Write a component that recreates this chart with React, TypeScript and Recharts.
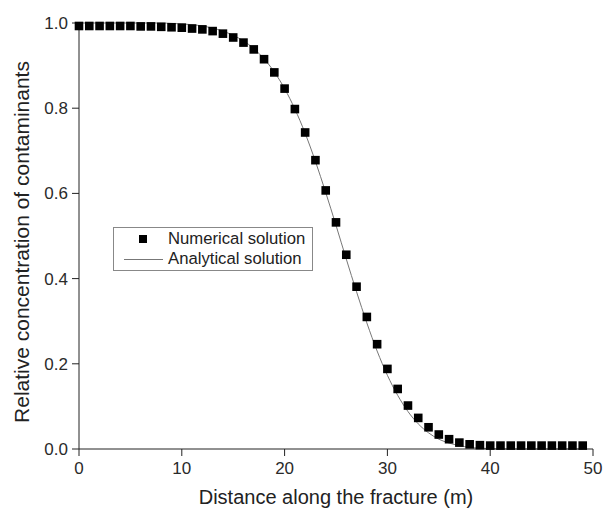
import { ComposedChart, Line, Scatter, XAxis, YAxis } from 'recharts';

const distance = [
  0, 1, 2, 3, 4, 5, 6, 7, 8, 9, 10, 11, 12, 13, 14, 15, 16, 17, 18, 19, 20, 21, 22, 23, 24,
  25, 26, 27, 28, 29, 30, 31, 32, 33, 34, 35, 36, 37, 38, 39, 40, 41, 42, 43, 44, 45, 46, 47, 48, 49,
];

const numerical = [
  0.993, 0.993, 0.993, 0.993, 0.993, 0.993, 0.992, 0.992, 0.991, 0.99, 0.989, 0.987, 0.985,
  0.981, 0.975, 0.966, 0.954, 0.938, 0.915, 0.884, 0.846, 0.798, 0.743, 0.678, 0.607, 0.532,
  0.456, 0.381, 0.31, 0.246, 0.188, 0.141, 0.102, 0.073, 0.051, 0.034, 0.023, 0.015, 0.011,
  0.009, 0.008, 0.008, 0.008, 0.008, 0.008, 0.008, 0.008, 0.008, 0.008, 0.008,
];

const analytical = [
  1.0, 1.0, 1.0, 1.0, 1.0, 1.0, 1.0, 1.0, 1.0, 0.999, 0.998, 0.996, 0.993, 0.988, 0.981,
  0.971, 0.958, 0.94, 0.916, 0.885, 0.846, 0.798, 0.741, 0.675, 0.602, 0.525, 0.446, 0.369,
  0.296, 0.23, 0.173, 0.126, 0.088, 0.059, 0.038, 0.023, 0.014, 0.008, 0.004, 0.002, 0.001,
  0, 0, 0, 0, 0, 0, 0, 0, 0,
];

const xTicks = [0, 10, 20, 30, 40, 50];
const yTicks = [0, 0.2, 0.4, 0.6, 0.8, 1.0];

const chartData = distance.map((x, i) => ({ x, num: numerical[i], ana: analytical[i] }));

const font = 'Arial, "Liberation Sans", sans-serif';

const SquareDot = (props: any) => {
  const { cx, cy } = props;
  if (cx == null || cy == null) return null;
  return <rect x={cx - 4.3} y={cy - 4.3} width={8.6} height={8.6} fill="#000" />;
};

export default function App() {
  return (
    <div style={{ position: 'absolute', left: 0, top: 0, width: 603, height: 511, background: '#fff', fontFamily: font }}>
      <ComposedChart
        width={603}
        height={511}
        data={chartData}
        margin={{ top: 23, right: 10, left: 0, bottom: 0 }}
      >
        <XAxis
          dataKey="x"
          type="number"
          domain={[0, 50]}
          ticks={xTicks}
          height={62}
          tickSize={7}
          tickMargin={6}
          stroke="#222"
          tick={{ fontSize: 17, fill: '#2a2a2a', fontFamily: font }}
        />
        <XAxis xAxisId="top" dataKey="x" type="number" domain={[0, 50]} orientation="top" tick={false} height={0} stroke="#555" />
        <YAxis
          type="number"
          domain={[0, 1]}
          ticks={yTicks}
          width={79}
          tickSize={7}
          tickMargin={4}
          stroke="#222"
          tickFormatter={(v) => v.toFixed(1)}
          tick={{ fontSize: 17, fill: '#2a2a2a', fontFamily: font }}
        />
        <YAxis yAxisId="right" orientation="right" domain={[0, 1]} tick={false} width={0} stroke="#555" />
        <Line
          dataKey="ana"
          type="monotone"
          stroke="#777"
          strokeWidth={1}
          dot={false}
          isAnimationActive={false}
        />
        <Scatter dataKey="num" shape={SquareDot} isAnimationActive={false} />
      </ComposedChart>

      <div
        style={{
          position: 'absolute',
          left: 336,
          top: 497,
          transform: 'translate(-50%, -50%)',
          whiteSpace: 'nowrap',
          fontSize: 20,
          color: '#222',
        }}
      >
        Distance along the fracture (m)
      </div>
      <div
        style={{
          position: 'absolute',
          left: 22,
          top: 242,
          transform: 'translate(-50%, -50%) rotate(-90deg)',
          whiteSpace: 'nowrap',
          fontSize: 21,
          color: '#222',
        }}
      >
        Relative concentration of contaminants
      </div>

      <div
        style={{
          position: 'absolute',
          left: 113,
          top: 227,
          width: 198,
          height: 42,
          border: '1px solid #888',
          background: '#fff',
          fontSize: 16.7,
          color: '#222',
        }}
      >
        <div style={{ position: 'absolute', left: 25, top: 7, width: 8, height: 8, background: '#000' }} />
        <div style={{ position: 'absolute', left: 54, top: 1, lineHeight: '20px', whiteSpace: 'nowrap' }}>Numerical solution</div>
        <div style={{ position: 'absolute', left: 10, top: 31, width: 39, height: 1, background: '#777' }} />
        <div style={{ position: 'absolute', left: 54, top: 21, lineHeight: '20px', whiteSpace: 'nowrap' }}>Analytical solution</div>
      </div>
    </div>
  );
}
